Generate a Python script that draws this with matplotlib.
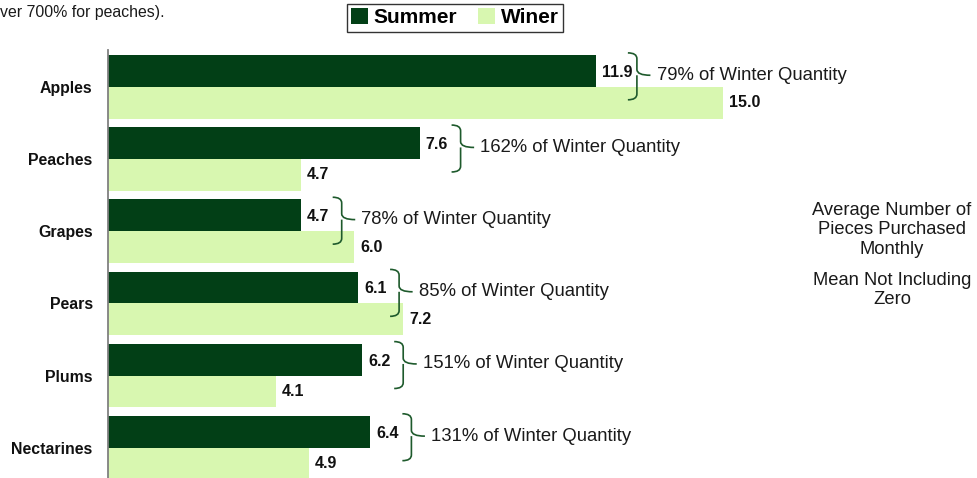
import matplotlib.pyplot as plt
from matplotlib.path import Path
from matplotlib.patches import PathPatch

plt.rcParams['font.family'] = ['Liberation Sans', 'DejaVu Sans']

# data
fruits = ['Apples', 'Peaches', 'Grapes', 'Pears', 'Plums', 'Nectarines']
summer = [11.9, 7.6, 4.7, 6.1, 6.2, 6.4]
winter = [15.0, 4.7, 6.0, 7.2, 4.1, 4.9]
pct_of_winter = [79, 162, 78, 85, 151, 131]

dark_green = '#023f16'
light_green = '#d8f7b0'


def brace(ax, x0, ytop, ybot, ytip, w=0.55, xv=0.22):
    # curly brace pointing right, y axis inverted
    r = 0.08
    xm = x0 + xv
    verts = [
        (x0, ytop), (xm, ytop), (xm, ytop + r),
        (xm, ytip - r),
        (xm, ytip), (x0 + w, ytip),
        (xm, ytip), (xm, ytip + r),
        (xm, ybot - r),
        (xm, ybot), (x0, ybot),
    ]
    codes = [Path.MOVETO, Path.CURVE3, Path.CURVE3,
             Path.LINETO,
             Path.CURVE3, Path.CURVE3,
             Path.MOVETO, Path.CURVE3,
             Path.LINETO,
             Path.CURVE3, Path.CURVE3]
    ax.add_patch(PathPatch(Path(verts, codes), fill=False,
                           edgecolor='#1e5a2c', lw=1.2))


fig = plt.figure(figsize=(9.77, 4.78), dpi=100)
ax = fig.add_axes([108 / 977, 0, 820 / 977, 428 / 478])

h = 0.44
pos = list(range(len(fruits)))
ax.barh([p - h / 2 for p in pos], summer, height=h, color=dark_green, label='Summer')
ax.barh([p + h / 2 for p in pos], winter, height=h, color=light_green, label='Winer')

for p, s, w, pc in zip(pos, summer, winter, pct_of_winter):
    ax.text(s + 0.15, p - h / 2 + 0.02, f'{s:.1f}', va='center', ha='left',
            fontsize=11.5, fontweight='bold', color='#111111')
    ax.text(w + 0.15, p + h / 2, f'{w:.1f}', va='center', ha='left',
            fontsize=11.5, fontweight='bold', color='#111111')
    x0 = s + 0.78
    brace(ax, x0, p - 0.47, p + 0.18, p - 0.16)
    ax.text(x0 + 0.7, p - 0.16, f'{pc}% of Winter Quantity', va='center',
            ha='left', fontsize=13.3, color='#1a1a1a')

ax.set_xlim(0, 20)
ax.set_ylim(5.42, -0.51)
ax.set_yticks(pos)
ax.set_yticklabels(fruits, fontsize=11.4, fontweight='bold', color='#111111')
ax.tick_params(axis='y', length=0, pad=11)
ax.set_xticks([])
for sp in ['top', 'right', 'bottom']:
    ax.spines[sp].set_visible(False)
ax.spines['left'].set_color('#808080')
ax.spines['left'].set_linewidth(1.3)

leg = fig.legend(loc='upper center', bbox_to_anchor=(455 / 977, 1 - 4 / 478),
                 ncol=2, frameon=True, fancybox=False, edgecolor='black',
                 prop={'weight': 'bold', 'size': 15}, handlelength=0.8,
                 handleheight=0.8, handletextpad=0.3, columnspacing=1.0,
                 borderpad=0.2, borderaxespad=0)
leg.get_frame().set_linewidth(1.0)

fig.text(0, 1 - 13 / 478, 'ver 700% for peaches).', fontsize=11.4,
         va='center', ha='left', color='#1a1a1a')
fig.text(892 / 977, 1 - 230 / 478,
         'Average Number of\nPieces Purchased\nMonthly',
         ha='center', va='center', fontsize=13.2, linespacing=1.2, color='#1a1a1a')
fig.text(892 / 977, 1 - 290 / 478, 'Mean Not Including\nZero',
         ha='center', va='center', fontsize=13.2, linespacing=1.2, color='#1a1a1a')

fig.savefig('out.png', dpi=100)
